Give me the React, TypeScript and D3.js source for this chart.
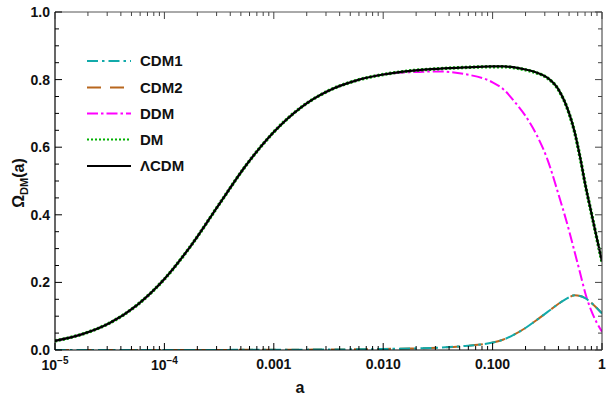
import React from "react";
import * as d3 from "d3";

// log10(a) grid
const logA = [-5, -4.75, -4.5, -4.25, -4, -3.75, -3.5, -3.25, -3, -2.75, -2.5, -2.25, -2, -1.75, -1.5, -1.25, -1, -0.9, -0.8, -0.7, -0.6, -0.5, -0.4, -0.3, -0.25, -0.2, -0.15, -0.1, -0.05, 0];

const lcdm = [0.027, 0.047, 0.08, 0.133, 0.21, 0.312, 0.431, 0.548, 0.645, 0.718, 0.767, 0.797, 0.815, 0.826, 0.832, 0.836, 0.839, 0.839, 0.836, 0.83, 0.821, 0.806, 0.772, 0.7, 0.645, 0.57, 0.485, 0.41, 0.335, 0.262];
const dm = [0.027, 0.047, 0.08, 0.133, 0.21, 0.312, 0.431, 0.548, 0.645, 0.718, 0.767, 0.797, 0.815, 0.826, 0.832, 0.836, 0.838, 0.838, 0.835, 0.829, 0.82, 0.805, 0.771, 0.699, 0.644, 0.569, 0.484, 0.409, 0.334, 0.261];
const ddm = [0.027, 0.047, 0.08, 0.133, 0.21, 0.312, 0.431, 0.548, 0.645, 0.718, 0.767, 0.797, 0.815, 0.822, 0.824, 0.816, 0.792, 0.771, 0.735, 0.693, 0.638, 0.565, 0.463, 0.352, 0.29, 0.228, 0.165, 0.118, 0.082, 0.054];
const cdm1 = [0, 0, 0, 0, 0.0001, 0.0002, 0.0003, 0.0005, 0.0008, 0.001, 0.0015, 0.002, 0.003, 0.0045, 0.007, 0.012, 0.022, 0.031, 0.046, 0.065, 0.088, 0.112, 0.136, 0.156, 0.162, 0.16, 0.153, 0.14, 0.125, 0.108];
const cdm2 = [0, 0, 0, 0, 0.0001, 0.0002, 0.0003, 0.0005, 0.0008, 0.001, 0.0015, 0.002, 0.003, 0.0045, 0.007, 0.012, 0.022, 0.031, 0.046, 0.065, 0.088, 0.112, 0.136, 0.156, 0.162, 0.16, 0.153, 0.14, 0.125, 0.108];

const seriesNames = ["CDM1", "CDM2", "DDM", "DM", "ΛCDM"];
const yTicks = [0, 0.2, 0.4, 0.6, 0.8, 1.0];
const yTickLabels = ["0.0", "0.2", "0.4", "0.6", "0.8", "1.0"];
const xTickExp = [-5, -4, -3, -2, -1, 0];
const xTickLabels = ["10^-5", "10^-4", "0.001", "0.010", "0.100", "1"];

const W = 606, H = 401;
const L = 55, R = 602, T = 12, B = 350;
const FONT = "'Liberation Sans', Arial, Helvetica, sans-serif";

export default function App() {
  const x = d3.scaleLog().domain([1e-5, 1]).range([L, R]);
  const y = d3.scaleLinear().domain([0, 1]).range([B, T]);

  const mk = (vals: number[]) =>
    d3.line<number>()
      .x((_, i) => x(Math.pow(10, logA[i])))
      .y((v) => y(v))
      .curve(d3.curveMonotoneX)(vals) || "";

  const sCdm1 = { data: cdm1, color: "#12aaaa", dash: "11,4,2.5,4", w: 2 };
  const sCdm2 = { data: cdm2, color: "#b8671e", dash: "14,9", w: 2 };
  const sDdm = { data: ddm, color: "#ff00ff", dash: "11,3,2.5,3", w: 2 };
  const sDm = { data: dm, color: "#00b000", dash: "2,2", w: 1.8 };
  const sL = { data: lcdm, color: "#000000", dash: "", w: 2.2 };
  const legendStyles = [sCdm1, sCdm2, sDdm, sDm, sL];
  const dmUnder = { ...sDm, w: 3.4 };
  const drawOrder = [sDdm, dmUnder, sL, sCdm2, sCdm1];

  // minor ticks
  const xMinor: number[] = [];
  for (let e = -5; e < 0; e++) for (let k = 2; k <= 9; k++) xMinor.push(k * Math.pow(10, e));
  const yMinor: number[] = [];
  for (let i = 0; i <= 20; i++) if (i % 4 !== 0) yMinor.push(i * 0.05);

  const legendY = [61, 87.5, 113.5, 139.5, 166];

  return (
    <svg width={W} height={H} style={{ position: "absolute", left: 0, top: 0, background: "#fff" }} fontFamily={FONT}>
      <rect x={0} y={0} width={W} height={H} fill="#fff" />
      <defs>
        <clipPath id="plot">
          <rect x={L} y={T} width={R - L} height={B - T} />
        </clipPath>
      </defs>
      {/* curves */}
      <g clipPath="url(#plot)">
        {drawOrder.map((s, i) => (
          <path key={i} d={mk(s.data)} fill="none" stroke={s.color} strokeWidth={s.w} strokeDasharray={s.dash || undefined} />
        ))}
      </g>
      {/* frame */}
      <line x1={L} x2={R} y1={T} y2={T} stroke="#555" strokeWidth={1} />
      <line x1={R} x2={R} y1={T} y2={B} stroke="#333" strokeWidth={1} />
      <line x1={L} x2={L} y1={T} y2={B} stroke="#000" strokeWidth={1.2} />
      <line x1={L} x2={R} y1={B} y2={B} stroke="#000" strokeWidth={1.2} />
      {/* x ticks */}
      {xTickExp.map((e) => {
        const px = x(Math.pow(10, e));
        return (
          <g key={"xt" + e}>
            <line x1={px} x2={px} y1={B} y2={B - 7} stroke="#000" />
            <line x1={px} x2={px} y1={T} y2={T + 7} stroke="#444" />
          </g>
        );
      })}
      {xMinor.map((v, i) => {
        const px = x(v);
        return (
          <g key={"xm" + i}>
            <line x1={px} x2={px} y1={B} y2={B - 4} stroke="#000" />
            <line x1={px} x2={px} y1={T} y2={T + 4} stroke="#444" />
          </g>
        );
      })}
      {/* y ticks */}
      {yTicks.map((v) => (
        <g key={"yt" + v}>
          <line x1={L} x2={L + 7} y1={y(v)} y2={y(v)} stroke="#000" />
          <line x1={R} x2={R - 7} y1={y(v)} y2={y(v)} stroke="#444" />
        </g>
      ))}
      {yMinor.map((v, i) => (
        <g key={"ym" + i}>
          <line x1={L} x2={L + 4} y1={y(v)} y2={y(v)} stroke="#000" />
          <line x1={R} x2={R - 4} y1={y(v)} y2={y(v)} stroke="#444" />
        </g>
      ))}
      {/* y tick labels */}
      {yTicks.map((v, i) => (
        <text key={"yl" + i} x={L - 5} y={y(v)} dy="0.36em" textAnchor="end" fontSize={14} fontWeight="bold" fill="#111">
          {yTickLabels[i]}
        </text>
      ))}
      {/* x tick labels */}
      {xTickExp.map((e, i) => {
        const lab = xTickLabels[i];
        const px = x(Math.pow(10, e));
        if (lab.startsWith("10^")) {
          return (
            <text key={"xl" + i} x={px} y={370} textAnchor="middle" fontSize={14} fontWeight="bold" fill="#111">
              10<tspan dy={-6} fontSize={10}>{lab.slice(3).replace("-", "−")}</tspan>
            </text>
          );
        }
        return (
          <text key={"xl" + i} x={px} y={369} textAnchor="middle" fontSize={14} fontWeight="bold" fill="#111">
            {lab}
          </text>
        );
      })}
      {/* axis titles */}
      <text x={300} y={393} textAnchor="middle" fontSize={16} fontWeight="bold" fill="#111">a</text>
      <text transform={`translate(24,${(T + B) / 2 + 2}) rotate(-90)`} textAnchor="middle" fontSize={16} fontWeight="bold" fill="#111">
        Ω<tspan fontSize={11} dy={4}>DM</tspan><tspan dy={-4}>(a)</tspan>
      </text>
      {/* legend */}
      {legendStyles.map((s, i) => (
        <g key={"lg" + i}>
          <line x1={87} x2={131} y1={legendY[i]} y2={legendY[i]} stroke={s.color} strokeWidth={s.w} strokeDasharray={s.dash || undefined} />
          <text x={140} y={legendY[i]} dy="0.36em" fontSize={15} fontWeight="bold" fill="#111">{seriesNames[i]}</text>
        </g>
      ))}
    </svg>
  );
}
